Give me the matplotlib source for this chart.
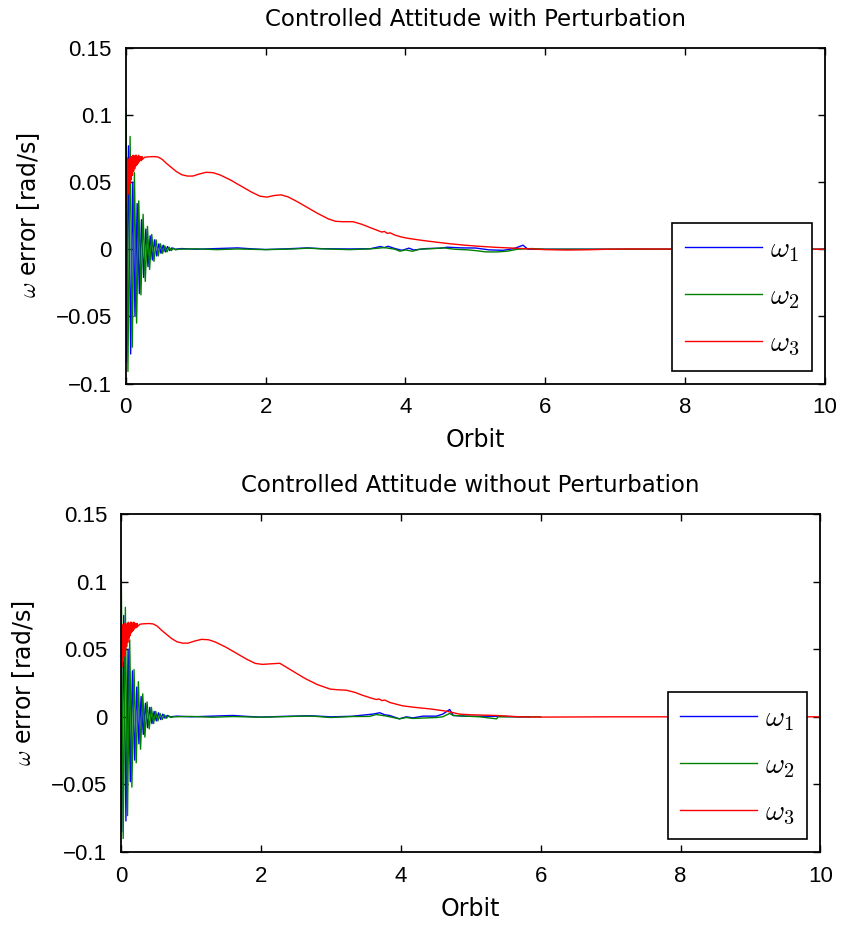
import matplotlib
matplotlib.use('Agg')
import matplotlib.pyplot as plt

plt.rcParams['font.family'] = ['Liberation Sans', 'DejaVu Sans']
plt.rcParams['mathtext.fontset'] = 'cm'

# ---- Data ----
# top panel: with perturbation
t_w1_top = [0.003, 0.010, 0.039, 0.070, 0.101, 0.132, 0.163, 0.194, 0.225, 0.256, 0.287, 0.318,
            0.349, 0.380, 0.411, 0.442, 0.473, 0.504, 0.535, 0.566, 0.597, 0.628, 0.660, 0.700,
            0.80, 1.00, 1.30, 1.60, 1.80, 2.00, 2.30, 2.60, 2.80, 3.20, 3.50, 3.64, 3.70, 3.75,
            3.85, 3.95, 4.05, 4.12, 4.30, 4.50, 4.60, 4.80, 5.00, 5.20, 5.40, 5.55, 5.68, 5.75,
            6.00, 7.00, 10.00]
w1_top = [0.030, -0.084, 0.077, -0.078, 0.050, -0.050, 0.034, -0.033, 0.022, -0.021, 0.015, -0.013,
          0.010, -0.008, 0.007, -0.005, 0.004, -0.003, 0.003, -0.002, 0.002, -0.001, 0.001, 0.000,
          0.0005, 0.0, 0.0005, 0.001, 0.0003, -0.0002, 0.0003, 0.001, 0.0004, 0.0002, 0.0004, 0.002, 0.0012, 0.0022,
          0.0005, -0.0008, 0.0008, -0.0006, 0.0005, 0.0008, 0.0015, 0.0010, 0.0009, -0.0005, -0.0008, 0.0005, 0.0030, 0.0,
          0.0, 0.0, 0.0]

t_w2_top = [0.004, 0.031, 0.062, 0.093, 0.124, 0.155, 0.186, 0.217, 0.248, 0.279, 0.310, 0.341,
            0.372, 0.403, 0.434, 0.465, 0.496, 0.527, 0.558, 0.589, 0.620, 0.651, 0.682, 0.713,
            0.75, 1.00, 1.30, 1.60, 2.00, 2.40, 2.60, 2.80, 3.20, 3.50, 3.70, 3.85, 3.92, 4.00,
            4.10, 4.20, 4.40, 4.55, 4.70, 4.90, 5.00, 5.15, 5.30, 5.45, 5.60, 5.80, 6.00, 7.00, 10.00]
w2_top = [0.104, -0.091, 0.084, -0.073, 0.057, -0.055, 0.036, -0.034, 0.026, -0.024, 0.017, -0.015,
          0.011, -0.009, 0.007, -0.005, 0.004, -0.003, 0.0025, -0.002, 0.0015, -0.001, 0.0008, -0.0005,
          0.0, 0.0003, -0.0003, 0.0002, -0.0003, 0.0002, 0.0008, 0.0003, -0.0003, 0.0003, 0.0012, 0.0, -0.0015, -0.0005,
          -0.0015, 0.0, 0.0005, 0.001, 0.0, -0.0005, -0.001, -0.002, -0.002, -0.0015, 0.0, 0.0005, 0.0, 0.0, 0.0]

t_w3_top = [0.000, 0.008, 0.016, 0.024, 0.032, 0.040, 0.048, 0.056, 0.064, 0.072, 0.080, 0.088,
            0.096, 0.104, 0.112, 0.120, 0.128, 0.136, 0.144, 0.152, 0.160, 0.168, 0.176, 0.184,
            0.192, 0.200, 0.208, 0.216, 0.224, 0.232, 0.240,
            0.27, 0.32, 0.40, 0.46, 0.52, 0.58, 0.65, 0.72, 0.80, 0.88, 0.96, 1.05, 1.15, 1.25,
            1.35, 1.50, 1.65, 1.80, 1.92, 2.02, 2.12, 2.22, 2.32, 2.45, 2.60, 2.75, 2.90, 3.00,
            3.10, 3.25, 3.38, 3.50, 3.60, 3.66, 3.70, 3.74, 3.78, 3.85, 3.95, 4.05, 4.25, 4.45,
            4.65, 4.85, 5.05, 5.30, 5.55, 5.80, 6.00, 6.30, 6.60, 6.90, 7.20, 8.00, 9.00, 10.00]
w3_top = [0.033, 0.066, 0.037, 0.068, 0.041, 0.067, 0.045, 0.069, 0.049, 0.068, 0.052, 0.069,
          0.055, 0.070, 0.058, 0.069, 0.060, 0.070, 0.062, 0.070, 0.063, 0.069, 0.064, 0.070,
          0.065, 0.069, 0.066, 0.069, 0.066, 0.069, 0.067,
          0.0685, 0.0688, 0.0690, 0.0687, 0.0670, 0.0640, 0.0610, 0.0580, 0.0555, 0.0545, 0.0545, 0.0560, 0.0573, 0.0570,
          0.0553, 0.0515, 0.0470, 0.0425, 0.0395, 0.0388, 0.0400, 0.0405, 0.0390, 0.0355, 0.0310, 0.0265, 0.0225, 0.0208,
          0.0205, 0.0205, 0.0185, 0.0160, 0.0140, 0.0128, 0.0132, 0.0118, 0.0122, 0.0105, 0.0090, 0.0080, 0.0065, 0.0052,
          0.0040, 0.0030, 0.0022, 0.0014, 0.0008, 0.0002, -0.0003, -0.0006, -0.0004, 0.0000, 0.0002, 0.0001, 0.0, 0.0]

# bottom panel: without perturbation
t_w1_bot = [0.003, 0.010, 0.039, 0.070, 0.101, 0.132, 0.163, 0.194, 0.225, 0.256, 0.287, 0.318,
            0.349, 0.380, 0.411, 0.442, 0.473, 0.504, 0.535, 0.566, 0.597, 0.628, 0.660, 0.700,
            0.80, 1.00, 1.30, 1.60, 1.80, 2.00, 2.30, 2.70, 3.00, 3.30, 3.60, 3.70, 3.77, 3.84,
            3.98, 4.08, 4.17, 4.32, 4.51, 4.60, 4.70, 4.75, 4.94, 5.37, 5.70, 5.85]
w1_bot = [0.032, -0.085, 0.075, -0.077, 0.050, -0.048, 0.034, -0.032, 0.022, -0.020, 0.015, -0.013,
          0.010, -0.008, 0.007, -0.005, 0.004, -0.003, 0.003, -0.002, 0.002, -0.001, 0.001, 0.000,
          0.0005, 0.0, 0.0005, 0.001, 0.0003, -0.0002, 0.0003, 0.0008, 0.0, 0.0004, 0.002, 0.0030, 0.0015, 0.001,
          -0.0015, 0.0, -0.0008, 0.0005, 0.0005, 0.002, 0.0054, 0.001, 0.0004, 0.0004, 0.0, 0.0]

t_w2_bot = [0.004, 0.031, 0.062, 0.093, 0.124, 0.155, 0.186, 0.217, 0.248, 0.279, 0.310, 0.341,
            0.372, 0.403, 0.434, 0.465, 0.496, 0.527, 0.558, 0.589, 0.620, 0.651, 0.682, 0.713,
            0.75, 1.00, 1.30, 1.60, 2.00, 2.40, 2.56, 2.75, 2.99, 3.30, 3.55, 3.65, 3.80, 3.98,
            4.08, 4.17, 4.51, 4.60, 4.70, 4.75, 5.13, 5.37, 5.39, 6.00]
w2_bot = [0.102, -0.090, 0.081, -0.073, 0.057, -0.052, 0.035, -0.034, 0.026, -0.024, 0.017, -0.015,
          0.011, -0.009, 0.007, -0.005, 0.004, -0.003, 0.0025, -0.002, 0.0015, -0.001, 0.0008, -0.0005,
          0.0, 0.0003, -0.0003, 0.0002, -0.0003, 0.0002, 0.0005, 0.0005, -0.0005, 0.0002, 0.0003, 0.0017, 0.0005, -0.0015,
          -0.0005, -0.0012, -0.0005, 0.0, 0.0025, 0.001, 0.0, -0.0015, 0.0, 0.0]

t_w3_bot = t_w3_top[:51] + [2.27, 2.45, 2.63, 2.80, 2.99, 3.10, 3.22, 3.35, 3.45, 3.58, 3.65, 3.69,
                            3.73, 3.77, 3.85, 4.03, 4.20, 4.41, 4.65, 4.84, 5.00, 5.36, 5.70, 6.00,
                            7.00, 10.00]
w3_bot = w3_top[:51] + [0.0396, 0.0340, 0.0284, 0.0240, 0.0205, 0.0200, 0.0197, 0.0180, 0.0160, 0.0138, 0.0128, 0.0132,
                        0.0120, 0.0124, 0.0105, 0.0081, 0.0070, 0.0059, 0.0042, 0.0020, 0.0015, 0.0010, 0.0, -0.0002,
                        0.0, 0.0]

titles = ['Controlled Attitude with Perturbation', 'Controlled Attitude without Perturbation']
series_labels = [r'$\omega_{\mathsf{1}}$', r'$\omega_{\mathsf{2}}$', r'$\omega_{\mathsf{3}}$']
series_colors = ['#0000ff', '#008000', '#ff0000']
ytick_vals = [-0.1, -0.05, 0, 0.05, 0.1, 0.15]
ytick_labels = ['\u22120.1', '\u22120.05', '0', '0.05', '0.1', '0.15']
xtick_vals = [0, 2, 4, 6, 8, 10]

panels = [
    ([t_w1_top, t_w2_top, t_w3_top], [w1_top, w2_top, w3_top]),
    ([t_w1_bot, t_w2_bot, t_w3_bot], [w1_bot, w2_bot, w3_bot]),
]

label_font = ['DejaVu Sans']

fig = plt.figure(figsize=(8.44, 9.25), dpi=100)
ax_top = fig.add_axes([0.149, 0.5854, 0.8286, 0.3629])
ax_bot = fig.add_axes([0.1434, 0.0789, 0.8286, 0.3654])

for ax, title, (ts, ws) in zip([ax_top, ax_bot], titles, panels):
    for t, w, lab, col in zip(ts, ws, series_labels, series_colors):
        ax.plot(t, w, color=col, lw=1.0, label=lab)
    ax.set_xlim(0, 10)
    ax.set_ylim(-0.1, 0.15)
    ax.set_xticks(xtick_vals)
    ax.set_yticks(ytick_vals)
    ax.set_yticklabels(ytick_labels)
    ax.tick_params(direction='in', length=5, width=1, top=True, right=True, labelsize=16, pad=10)
    for sp in ax.spines.values():
        sp.set_linewidth(1.3)
    ax.set_title(title, fontsize=16.5, pad=16, family=label_font)
    ax.set_xlabel('Orbit', fontsize=17, labelpad=7, family=label_font)
    ax.set_ylabel(r'$\omega$ error [rad/s]', fontsize=17, labelpad=10, family=label_font)
    leg = ax.legend(loc='lower right', bbox_to_anchor=(0.981, 0.038), borderaxespad=0,
                    fontsize=21, handlelength=2.65, handletextpad=0.28, labelspacing=0.62,
                    borderpad=0.42, fancybox=False, framealpha=1, edgecolor='black')
    leg.get_frame().set_linewidth(1.2)

fig.savefig('out.png', dpi=100)
